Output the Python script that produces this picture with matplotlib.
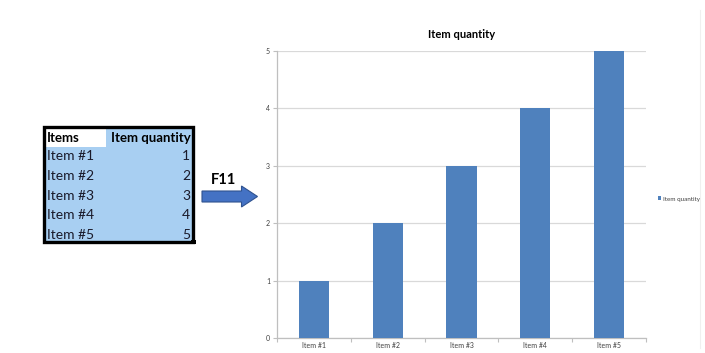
import matplotlib.pyplot as plt
from matplotlib.patches import Rectangle, FancyArrow

items = ['Item #1', 'Item #2', 'Item #3', 'Item #4', 'Item #5']
quantity = [1, 2, 3, 4, 5]
header = ['Items', 'Item quantity']
series_name = 'Item quantity'

W, H = 705, 353
bar_color = '#4f81bd'
cell_blue = '#a8cff2'
grid_grey = '#d9d9d9'

plt.rcParams['font.family'] = ['Lato', 'DejaVu Sans']

fig = plt.figure(figsize=(W / 100, H / 100), dpi=100)

# overlay axes in pixel coordinates (y down) for the table and arrow
ov = fig.add_axes([0, 0, 1, 1])
ov.set_xlim(0, W)
ov.set_ylim(H, 0)
ov.axis('off')

# table
tx0, tx1 = 44, 193
ty0, row_h = 127, 19.6
split_x = 106
n_rows = len(items) + 1
ty1 = ty0 + n_rows * row_h - 3
ov.add_patch(Rectangle((tx0, ty0), tx1 - tx0, ty1 - ty0, facecolor=cell_blue, edgecolor='none'))
ov.add_patch(Rectangle((tx0, ty0), split_x - tx0, row_h, facecolor='white', edgecolor='none'))
ov.add_patch(Rectangle((tx0, ty0), tx1 - tx0, ty1 - ty0, facecolor='none', edgecolor='black', lw=2.4))
ov.add_patch(Rectangle((tx1 - 2, ty1 - 2), 4.5, 4.5, facecolor='black', edgecolor='none'))

ov.text(tx0 + 3, ty0 + row_h / 2 + 1, header[0], fontsize=9.5, fontweight='bold',
        ha='left', va='center', color='black')
ov.text(tx1 - 2.5, ty0 + row_h / 2 + 1, header[1], fontsize=9.5, fontweight='bold',
        ha='right', va='center', color='black')
for i, (name, q) in enumerate(zip(items, quantity)):
    yc = ty0 + (i + 1.5) * row_h
    ov.text(tx0 + 3, yc, name, fontsize=10, ha='left', va='center', color='#1a1a2a')
    ov.text(tx1 - 3, yc, str(q), fontsize=10, ha='right', va='center', color='#1a1a2a')

# F11 arrow
ov.add_patch(FancyArrow(202, 196.5, 55.5, 0, width=11, head_width=21, head_length=16,
                        length_includes_head=True, facecolor='#4472c4', edgecolor='#2f528f', lw=0.8))
ov.text(224, 180, 'F11', fontsize=10.5, fontweight='bold', ha='center', va='center')

# chart
ax = fig.add_axes([277 / W, 1 - 338 / H, (646 - 277) / W, (338 - 51) / H])
x = list(range(len(items)))
ax.bar(x, quantity, width=0.41, color=bar_color, zorder=3, label=series_name)
ax.set_xlim(-0.5, len(items) - 0.5)
ax.set_ylim(0, 5)
ax.set_yticks(range(0, 6))
ax.set_xticks(x)
ax.set_xticklabels(items)
ax.set_xticks([i + 0.5 for i in range(-1, len(items))], minor=True)
ax.tick_params(axis='x', which='major', length=0, labelsize=5, colors='#404040', pad=3)
ax.tick_params(axis='x', which='minor', length=3, color='#bfbfbf', width=0.8)
ax.tick_params(axis='y', length=3, color='#bfbfbf', width=0.8, labelsize=5,
               labelcolor='#404040', pad=2)
ax.grid(axis='y', color=grid_grey, lw=0.9, zorder=0)
for s in ['top', 'right']:
    ax.spines[s].set_visible(False)
for s in ['left', 'bottom']:
    ax.spines[s].set_color('#bfbfbf')
    ax.spines[s].set_linewidth(0.9)
ax.set_title('Item quantity', fontsize=8, fontweight='bold', pad=9)

fig.legend(loc='center left', bbox_to_anchor=(652 / W, 1 - 199 / H), frameon=False,
           fontsize=4.5, handlelength=0.6, handleheight=0.6, handletextpad=0.3,
           labelcolor='#404040')

# faint chart area border
ov.plot([700, 700], [10, 348], color='#f0f0f0', lw=0.8)

fig.savefig('out.png', dpi=100)
